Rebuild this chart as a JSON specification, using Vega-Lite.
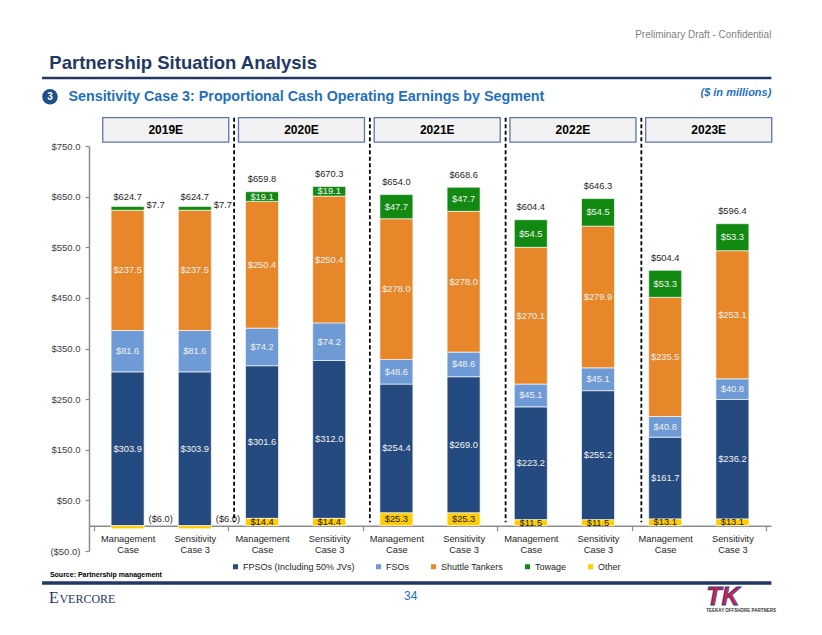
{
  "$schema": "https://vega.github.io/schema/vega-lite/v6.json",
  "width": 682,
  "height": 405,
  "autosize": {"type": "none"},
  "padding": {"left": 89, "top": 146, "right": 51, "bottom": 84},
  "background": "white",
  "config": {"view": {"stroke": null}, "font": "Liberation Sans", "text": {"font": "Liberation Sans"}},
  "datasets": {
    "bars": [
      {"bar": 1, "year": "2019E", "case": "Management Case", "total": 624.7, "FPSOs (Including 50% JVs)": 303.9, "FSOs": 81.6, "Shuttle Tankers": 237.5, "Towage": 7.7, "Other": -6.0},
      {"bar": 2, "year": "2019E", "case": "Sensitivity Case 3", "total": 624.7, "FPSOs (Including 50% JVs)": 303.9, "FSOs": 81.6, "Shuttle Tankers": 237.5, "Towage": 7.7, "Other": -6.0},
      {"bar": 3, "year": "2020E", "case": "Management Case", "total": 659.8, "FPSOs (Including 50% JVs)": 301.6, "FSOs": 74.2, "Shuttle Tankers": 250.4, "Towage": 19.1, "Other": 14.4},
      {"bar": 4, "year": "2020E", "case": "Sensitivity Case 3", "total": 670.3, "FPSOs (Including 50% JVs)": 312.0, "FSOs": 74.2, "Shuttle Tankers": 250.4, "Towage": 19.1, "Other": 14.4},
      {"bar": 5, "year": "2021E", "case": "Management Case", "total": 654.0, "FPSOs (Including 50% JVs)": 254.4, "FSOs": 48.6, "Shuttle Tankers": 278.0, "Towage": 47.7, "Other": 25.3},
      {"bar": 6, "year": "2021E", "case": "Sensitivity Case 3", "total": 668.6, "FPSOs (Including 50% JVs)": 269.0, "FSOs": 48.6, "Shuttle Tankers": 278.0, "Towage": 47.7, "Other": 25.3},
      {"bar": 7, "year": "2022E", "case": "Management Case", "total": 604.4, "FPSOs (Including 50% JVs)": 223.2, "FSOs": 45.1, "Shuttle Tankers": 270.1, "Towage": 54.5, "Other": 11.5},
      {"bar": 8, "year": "2022E", "case": "Sensitivity Case 3", "total": 646.3, "FPSOs (Including 50% JVs)": 255.2, "FSOs": 45.1, "Shuttle Tankers": 279.9, "Towage": 54.5, "Other": 11.5},
      {"bar": 9, "year": "2023E", "case": "Management Case", "total": 504.4, "FPSOs (Including 50% JVs)": 161.7, "FSOs": 40.8, "Shuttle Tankers": 235.5, "Towage": 53.3, "Other": 13.1},
      {"bar": 10, "year": "2023E", "case": "Sensitivity Case 3", "total": 596.4, "FPSOs (Including 50% JVs)": 236.2, "FSOs": 40.8, "Shuttle Tankers": 253.1, "Towage": 53.3, "Other": 13.1}
    ],
    "years": [
      {"g": 1, "year": "2019E"},
      {"g": 2, "year": "2020E"},
      {"g": 3, "year": "2021E"},
      {"g": 4, "year": "2022E"},
      {"g": 5, "year": "2023E"}
    ]
  },
  "layer": [
    {
      "data": {"name": "bars"},
      "transform": [
        {"fold": ["FPSOs (Including 50% JVs)", "FSOs", "Shuttle Tankers", "Towage", "Other"], "as": ["segment", "value"]},
        {"calculate": "indexof(['Other', 'FPSOs (Including 50% JVs)', 'FSOs', 'Shuttle Tankers', 'Towage'], datum.segment)", "as": "ord"},
        {"stack": "value", "groupby": ["bar"], "sort": [{"field": "ord", "order": "ascending"}], "as": ["v0", "v1"]},
        {"calculate": "(datum.v0 + datum.v1) / 2", "as": "mid"},
        {"calculate": "datum.value < 0 ? '($' + format(-datum.value, '.1f') + ')' : '$' + format(datum.value, '.1f')", "as": "label"}
      ],
      "layer": [
        {
          "mark": {"type": "bar", "width": 33, "stroke": "#ffffff", "strokeWidth": 0.8, "strokeOpacity": 0.8},
          "encoding": {
            "x": {
              "field": "bar", "type": "quantitative",
              "scale": {"domain": [0.5, 10.5], "nice": false, "zero": false},
              "axis": {
                "values": [0.5, 1, 2, 2.5, 3, 4, 4.5, 5, 6, 6.5, 7, 8, 8.5, 9, 10, 10.5],
                "labelExpr": "datum.value % 2 == 1 ? ['Management', 'Case'] : (datum.value % 2 == 0 ? ['Sensitivity', 'Case 3'] : '')",
                "title": null, "grid": false, "offset": -25.3,
                "domainColor": "#8C8C8C", "domainWidth": 1.5,
                "tickColor": "#8C8C8C", "tickWidth": 1.2, "tickSize": 5,
                "tickOpacity": {"condition": {"test": "datum.value % 2 == 0.5", "value": 1}, "value": 0},
                "labelOverlap": false, "labelBound": false, "labelFlush": false,
                "labelFont": "Liberation Sans", "labelFontSize": 9.3, "labelColor": "#262626",
                "labelPadding": 4, "labelLineHeight": 11
              }
            },
            "y": {
              "field": "v0", "type": "quantitative",
              "scale": {"domain": [-50, 750], "nice": false, "zero": false},
              "axis": {
                "values": [-50, 50, 150, 250, 350, 450, 550, 650, 750],
                "labelExpr": "datum.value < 0 ? '($' + format(-datum.value, '.1f') + ')' : '$' + format(datum.value, '.1f')",
                "title": null, "grid": false,
                "domainColor": "#8C8C8C", "domainWidth": 1.5,
                "tickColor": "#8C8C8C", "tickWidth": 1.2, "tickSize": 4,
                "labelPadding": 5, "labelFont": "Liberation Sans", "labelFontSize": 9.5, "labelColor": "#404040"
              }
            },
            "y2": {"field": "v1"},
            "color": {
              "field": "segment", "type": "nominal",
              "scale": {
                "domain": ["FPSOs (Including 50% JVs)", "FSOs", "Shuttle Tankers", "Towage", "Other"],
                "range": ["#254A7F", "#6E9AD5", "#E8872A", "#128A12", "#FFCC00"]
              },
              "legend": {
                "orient": "none", "legendX": 142, "legendY": 416, "direction": "horizontal", "title": null,
                "symbolType": "square", "symbolSize": 25, "symbolStrokeWidth": 0,
                "labelFont": "Liberation Sans", "labelFontSize": 9, "labelColor": "#262626",
                "columnPadding": 19, "labelOffset": 3
              }
            }
          }
        },
        {
          "transform": [{"filter": "datum.segment != 'Other' && !(datum.segment == 'Towage' && datum.value < 10)"}],
          "mark": {"type": "text", "fontSize": 9.3, "color": "#F2F2F2", "baseline": "middle"},
          "encoding": {
            "x": {"field": "bar", "type": "quantitative"},
            "y": {"field": "mid", "type": "quantitative"},
            "text": {"field": "label"}
          }
        },
        {
          "transform": [{"filter": "datum.segment == 'Other' && datum.value > 0"}],
          "mark": {"type": "text", "fontSize": 9.3, "color": "#1A1A1A", "baseline": "middle"},
          "encoding": {
            "x": {"field": "bar", "type": "quantitative"},
            "y": {"field": "mid", "type": "quantitative"},
            "text": {"field": "label"}
          }
        },
        {
          "transform": [{"filter": "datum.segment == 'Towage' && datum.value < 10"}],
          "mark": {"type": "text", "fontSize": 9.3, "color": "#262626", "baseline": "middle", "align": "left", "dx": 19, "dy": -3},
          "encoding": {
            "x": {"field": "bar", "type": "quantitative"},
            "y": {"field": "mid", "type": "quantitative"},
            "text": {"field": "label"}
          }
        },
        {
          "transform": [{"filter": "datum.segment == 'Other' && datum.value < 0"}],
          "mark": {"type": "text", "fontSize": 9.3, "color": "#262626", "baseline": "middle", "align": "left", "dx": 21, "dy": -8},
          "encoding": {
            "x": {"field": "bar", "type": "quantitative"},
            "y": {"field": "mid", "type": "quantitative"},
            "text": {"field": "label"}
          }
        }
      ]
    },
    {
      "data": {"name": "bars"},
      "transform": [{"calculate": "'$' + format(datum.total, '.1f')", "as": "tlabel"}],
      "mark": {"type": "text", "fontSize": 9.3, "color": "#262626", "baseline": "middle", "dy": -12.5},
      "encoding": {
        "x": {"field": "bar", "type": "quantitative"},
        "y": {"field": "total", "type": "quantitative"},
        "text": {"field": "tlabel"}
      }
    },
    {
      "data": {"name": "years"},
      "transform": [
        {"calculate": "0.63 + 2.02 * (datum.g - 1)", "as": "x0"},
        {"calculate": "datum.x0 + 1.875", "as": "x1"},
        {"calculate": "(datum.x0 + datum.x1) / 2", "as": "xm"},
        {"calculate": "2.585 + 2.02 * (datum.g - 1)", "as": "xs"}
      ],
      "layer": [
        {
          "mark": {"type": "rect", "fill": "#F2F2F2", "stroke": "#5B76AA", "strokeWidth": 1.3},
          "encoding": {
            "x": {"field": "x0", "type": "quantitative"},
            "x2": {"field": "x1"},
            "y": {"datum": 806, "type": "quantitative"},
            "y2": {"datum": 757.5}
          }
        },
        {
          "mark": {"type": "text", "fontWeight": "bold", "fontSize": 12, "color": "#000000", "baseline": "middle"},
          "encoding": {
            "x": {"field": "xm", "type": "quantitative"},
            "y": {"datum": 781.5, "type": "quantitative"},
            "text": {"field": "year"}
          }
        },
        {
          "transform": [{"filter": "datum.g < 5"}],
          "mark": {"type": "rule", "color": "#000000", "strokeWidth": 1.8, "strokeDash": [4, 2.5]},
          "encoding": {
            "x": {"field": "xs", "type": "quantitative"},
            "y": {"datum": 806, "type": "quantitative"},
            "y2": {"datum": 7}
          }
        }
      ]
    },
    {
      "data": {"values": [{}]},
      "layer": [
        {
          "mark": {"type": "text", "text": "Preliminary Draft - Confidential", "align": "right", "baseline": "middle", "fontSize": 10, "color": "#7F7F7F"},
          "encoding": {"x": {"datum": 10.58, "type": "quantitative"}, "y": {"datum": 969, "type": "quantitative"}}
        },
        {
          "mark": {"type": "text", "text": "Partnership Situation Analysis", "align": "left", "baseline": "middle", "fontSize": 18.5, "fontWeight": "bold", "color": "#1F3864"},
          "encoding": {"x": {"datum": -0.165, "type": "quantitative"}, "y": {"datum": 914, "type": "quantitative"}}
        },
        {
          "mark": {"type": "rule", "color": "#1F3864", "strokeWidth": 2.5},
          "encoding": {"x": {"datum": -0.273, "type": "quantitative"}, "x2": {"datum": 10.58}, "y": {"datum": 884.3, "type": "quantitative"}}
        },
        {
          "mark": {"type": "point", "shape": "circle", "filled": true, "size": 240, "color": "#1F4E8C", "opacity": 1},
          "encoding": {"x": {"datum": -0.155, "type": "quantitative"}, "y": {"datum": 847.4, "type": "quantitative"}}
        },
        {
          "mark": {"type": "text", "text": "3", "align": "center", "baseline": "middle", "fontSize": 10, "fontWeight": "bold", "color": "#FFFFFF"},
          "encoding": {"x": {"datum": -0.155, "type": "quantitative"}, "y": {"datum": 847.4, "type": "quantitative"}}
        },
        {
          "mark": {"type": "text", "text": "Sensitivity Case 3: Proportional Cash Operating Earnings by Segment", "align": "left", "baseline": "middle", "fontSize": 14.3, "fontWeight": "bold", "color": "#1F6FC0"},
          "encoding": {"x": {"datum": 0.12, "type": "quantitative"}, "y": {"datum": 847, "type": "quantitative"}}
        },
        {
          "mark": {"type": "text", "text": "($ in millions)", "align": "right", "baseline": "middle", "fontSize": 11, "fontWeight": "bold", "fontStyle": "italic", "color": "#1F6FC0"},
          "encoding": {"x": {"datum": 10.58, "type": "quantitative"}, "y": {"datum": 854.7, "type": "quantitative"}}
        },
        {
          "mark": {"type": "text", "text": "Source: Partnership management", "align": "left", "baseline": "middle", "fontSize": 7, "fontWeight": "bold", "color": "#000000"},
          "encoding": {"x": {"datum": -0.156, "type": "quantitative"}, "y": {"datum": -97.4, "type": "quantitative"}}
        },
        {
          "mark": {"type": "rule", "color": "#1F3864", "strokeWidth": 3.5},
          "encoding": {"x": {"datum": -0.273, "type": "quantitative"}, "x2": {"datum": 10.58}, "y": {"datum": -113.2, "type": "quantitative"}}
        },
        {
          "mark": {"type": "text", "text": "E", "align": "left", "baseline": "alphabetic", "fontSize": 16, "color": "#1F3864", "font": "Liberation Serif"},
          "encoding": {"x": {"datum": -0.17, "type": "quantitative"}, "y": {"datum": -152, "type": "quantitative"}}
        },
        {
          "mark": {"type": "text", "text": "VERCORE", "align": "left", "baseline": "alphabetic", "fontSize": 12, "color": "#1F3864", "font": "Liberation Serif"},
          "encoding": {"x": {"datum": -0.015, "type": "quantitative"}, "y": {"datum": -152, "type": "quantitative"}}
        },
        {
          "mark": {"type": "text", "text": "34", "align": "center", "baseline": "middle", "fontSize": 12, "color": "#1F6FC0"},
          "encoding": {"x": {"datum": 5.213, "type": "quantitative"}, "y": {"datum": -139, "type": "quantitative"}}
        },
        {
          "mark": {"type": "text", "text": "TK", "align": "center", "baseline": "middle", "fontSize": 25, "fontWeight": "bold", "fontStyle": "italic", "color": "#D81E48", "stroke": "#1F3F8C", "strokeWidth": 0.8},
          "encoding": {"x": {"datum": 9.86, "type": "quantitative"}, "y": {"datum": -140, "type": "quantitative"}}
        },
        {
          "mark": {"type": "text", "text": "TEEKAY OFFSHORE PARTNERS", "align": "center", "baseline": "middle", "fontSize": 4.5, "fontWeight": "bold", "color": "#333333"},
          "encoding": {"x": {"datum": 10.13, "type": "quantitative"}, "y": {"datum": -168.5, "type": "quantitative"}}
        }
      ]
    }
  ]
}
